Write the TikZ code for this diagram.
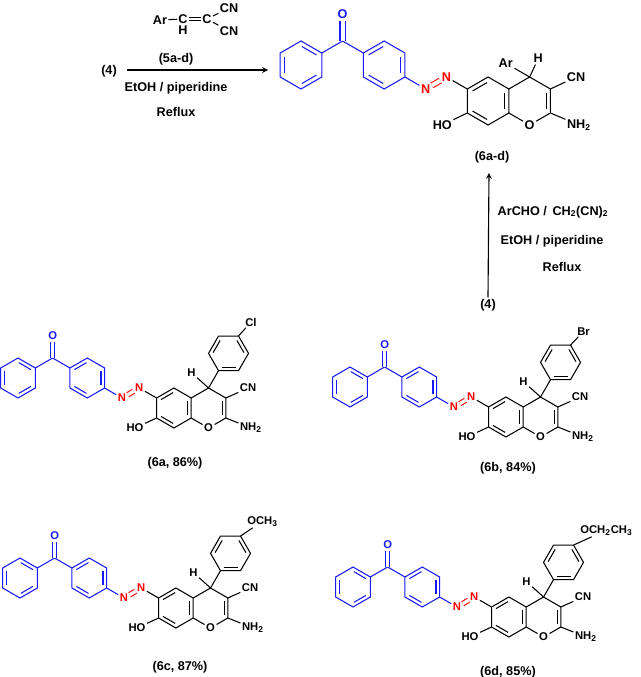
\documentclass[tikz,border=0pt]{standalone}
\usepackage{fontspec}
\setmainfont{Liberation Sans}
\usepackage{tikz}
\usetikzlibrary{arrows, positioning, calc}
\definecolor{azoBlue}{RGB}{25, 25, 245}
\definecolor{azoRed}{RGB}{250, 0, 0}

\tikzset{
    bond/.style={line width=0.75pt},
    atom/.style={inner sep=0.8pt, font=\bfseries},
    lbl/.style={font=\bfseries\fontsize{9}{10}\selectfont, inner sep=1pt},
    arrow/.style={->, >=stealth, line width=0.8pt, draw=black}
}

% inner line of a double bond in a ring
\newcommand{\inner}[2]{\draw[bond] ($(#1)+(#2-27:0.77)$) -- ($(#1)+(#2+27:0.77)$);}

% benzoyl-azo-chromene skeleton: x, y, bond, font size, prefix, extra
\newcommand{\azochromene}[6]{%
  \pgfmathsetmacro\bl{#3*0.025}%
  \pgfmathsetmacro\dd{#3*0.12}%
  \begin{scope}[shift={(#1,#2)}, x=\bl cm, y=\bl cm, bond,
      atom/.append style={font=\bfseries\fontsize{#4}{#4}\selectfont}]
    \coordinate (#5ca) at (0,0);
    \coordinate (#5cb) at (3.464,0);
    \coordinate (#5cc) at (7.794,-1.5);
    \coordinate (#5cd) at (9.526,-1.5);
    \foreach \t in {30,90,...,330}{
      \coordinate (#5a\t) at ($(#5ca)+(\t:1)$);
      \coordinate (#5b\t) at ($(#5cb)+(\t:1)$);
      \coordinate (#5c\t) at ($(#5cc)+(\t:1)$);
      \coordinate (#5d\t) at ($(#5cd)+(\t:1)$);
    }
    % benzophenone part
    \begin{scope}[azoBlue]
      \draw (#5a30) -- (#5a90) -- (#5a150) -- (#5a210) -- (#5a270) -- (#5a330) -- cycle;
      \inner{#5ca}{180} \inner{#5ca}{60} \inner{#5ca}{-60}
      \draw (#5b30) -- (#5b90) -- (#5b150) -- (#5b210) -- (#5b270) -- (#5b330) -- cycle;
      \inner{#5cb}{120} \inner{#5cb}{0} \inner{#5cb}{-120}
      \coordinate (#5k) at (1.732,1);
      \node[atom, text=azoBlue] (#5o) at (1.732,2.1) {O};
      \draw (#5a30) -- (#5k) -- (#5b150);
      \draw[double=white, double distance=\dd pt] (#5k) -- (#5o);
    \end{scope}
    % azo
    \node[atom, text=azoRed] (#5n1) at (5.196,-1.0) {N};
    \node[atom, text=azoRed] (#5n2) at (6.062,-0.5) {N};
    \draw[azoBlue] (#5b330) -- (#5n1);
    \draw[azoRed, double=white, double distance=\dd pt] (#5n1) -- (#5n2);
    \draw (#5n2) -- (#5c150);
    % chromene
    \draw (#5c30) -- (#5c90) -- (#5c150) -- (#5c210) -- (#5c270) -- (#5c330) -- cycle;
    \inner{#5cc}{120} \inner{#5cc}{0} \inner{#5cc}{-120}
    \node[atom] (#5or) at (#5d270) {O};
    \draw (#5c30) -- (#5d90) -- (#5d30) -- (#5d330) -- (#5or) -- (#5c330);
    \inner{#5cd}{0}
    \node[atom, xshift=-3pt] (#5oh) at (6.062,-2.5) {HO};
    \node[atom, xshift=3.5pt] (#5cn) at (11.258,-0.5) {CN};
    \node[atom, xshift=5.5pt] (#5nh) at (11.258,-2.5) {NH\textsubscript{2}};
    \draw (#5c210) -- (#5oh);
    \draw (#5d30) -- (#5cn);
    \draw (#5d330) -- (#5nh);
    #6
  \end{scope}
}

% 4-substituted phenyl at C4
\newcommand{\arylgroup}[2]{%
  \node[atom] (#1h) at ($(#1d90)+(138:1.15)$) {H};
  \draw (#1d90) -- (#1h);
  \coordinate (#1ce) at ($(#1d90)+(60:2)$);
  \foreach \t in {0,60,...,300}{\coordinate (#1e\t) at ($(#1ce)+(\t:1)$);}
  \draw (#1d90) -- (#1e240);
  \draw (#1e0) -- (#1e60) -- (#1e120) -- (#1e180) -- (#1e240) -- (#1e300) -- cycle;
  \inner{#1ce}{30} \inner{#1ce}{150} \inner{#1ce}{270}
  \node[atom, anchor=south west, xshift=-2pt, yshift=-4pt] (#1x) at ($(#1ce)+(60:1.8)$) {#2};
  \draw (#1e60) -- (#1x);
}

\begin{document}
\begin{tikzpicture}[x=0.025cm, y=-0.025cm]
\useasboundingbox (0,0) rectangle (640,677);

% reagent (5a-d)
\begin{scope}[atom/.append style={font=\bfseries\fontsize{9}{10}\selectfont}]
\node[atom] (ar5) at (160,20) {Ar};
\node[atom] (c5a) at (183,19) {C};
\node[atom] (h5) at (183,30) {H};
\node[atom] (c5b) at (207,19) {C};
\node[atom] (cn5a) at (229,8) {CN};
\node[atom] (cn5b) at (229,31) {CN};
\draw[bond] (ar5) -- (c5a);
\draw[bond, double=white, double distance=1.8pt] (c5a) -- (c5b);
\draw[bond] (c5b) -- (cn5a);
\draw[bond] (c5b) -- (cn5b);
\end{scope}

% upper route
\node[lbl] (r4a) at (109,71) {(4)};
\coordinate (tipa) at (268,70);
\draw[arrow] (r4a) ++(18,-1) coordinate (taila) (taila) -- (tipa);
\node[lbl] (lbl5) at (176,59) {(5a-d)};
\node[lbl] (cond1) at (176,88) {EtOH / piperidine};
\node[lbl] (cond2) at (176,112) {Reflux};

% product (6a-d)
\azochromene{301}{65}{24}{9}{p}{%
  \node[atom] (par) at ($(pd90)+(150:1.15)$) {Ar};
  \node[atom] (ph) at ($(pd90)+(65:0.85)$) {H};
  \draw (pd90) -- (par);
  \draw (pd90) -- (ph);
}
\node[lbl] (lbl6) at (492,157) {(6a-d)};

% lower route
\node[lbl] (r4b) at (488,305) {(4)};
\coordinate (tipb) at (489,173);
\draw[arrow] (r4b.north) -- (tipb);
\node[lbl] (cond3) at (553,212) {ArCHO /\, CH\textsubscript{2}(CN)\textsubscript{2}};
\node[lbl] (cond4) at (552,241) {EtOH / piperidine};
\node[lbl] (cond5) at (562,267) {Reflux};

% products 6a-d
\azochromene{18}{378}{20}{8}{m}{\arylgroup{m}{Cl}}
\azochromene{350}{387}{20}{8}{n}{\arylgroup{n}{Br}}
\azochromene{20}{578}{20}{8}{q}{\arylgroup{q}{OCH\textsubscript{3}}}
\azochromene{353}{587}{20}{8}{s}{\arylgroup{s}{OCH\textsubscript{2}CH\textsubscript{3}}}

\node[lbl] (lbl6a) at (175,463) {(6a, 86\%)};
\node[lbl] (lbl6b) at (508,468) {(6b, 84\%)};
\node[lbl] (lbl6c) at (180,667) {(6c, 87\%)};
\node[lbl] (lbl6d) at (508,672) {(6d, 85\%)};

\end{tikzpicture}
\end{document}
